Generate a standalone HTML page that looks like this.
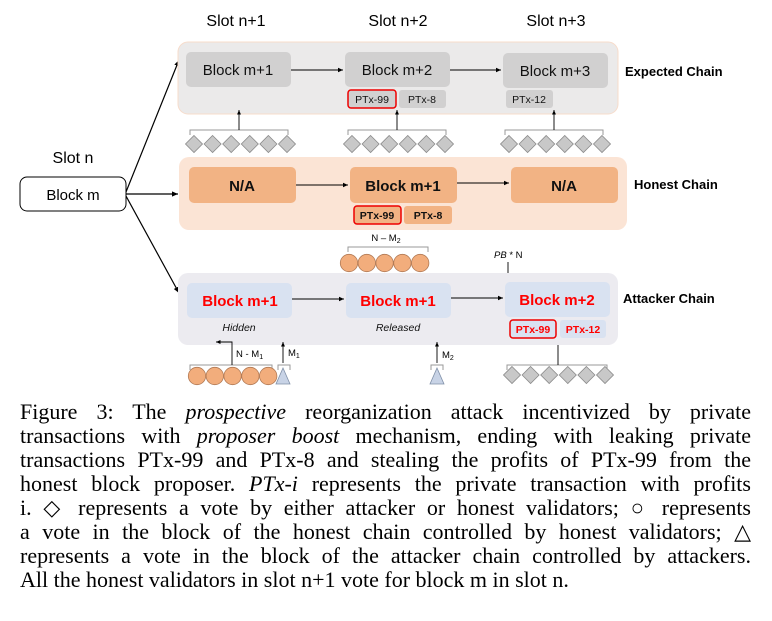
<!DOCTYPE html>
<html><head><meta charset="utf-8"><style>
html,body{margin:0;padding:0;background:#fff;width:772px;height:621px;overflow:hidden}
svg{position:absolute;left:0;top:0}
svg text{font-family:"Liberation Sans",sans-serif}
.cap{position:absolute;left:20px;width:731px;font-family:"Liberation Serif",serif;font-size:22px;line-height:24px;top:400px}
.cap div{text-align:justify;text-align-last:justify;white-space:nowrap;height:24px}
.cap div.last{text-align-last:left}
</style></head><body>
<svg width="772" height="400" viewBox="0 0 772 400">
<defs><marker id="a" markerWidth="6" markerHeight="6" refX="5" refY="3" orient="auto"><path d="M0,0.8L5,3L0,5.2z" fill="#000"/></marker>
<g id="dia"><path d="M0,-8.5L8.5,0L0,8.5L-8.5,0z" fill="#c8c8c8" stroke="#8a8a8a" stroke-width="0.8"/></g>
<circle id="cir" r="8.7" fill="#f2ad7c" stroke="#b27a55" stroke-width="0.8"/>
</defs>
<g font-size="16" fill="#000">
<text x="236" y="26" text-anchor="middle">Slot n+1</text>
<text x="398" y="26" text-anchor="middle">Slot n+2</text>
<text x="556" y="26" text-anchor="middle">Slot n+3</text>
<text x="73" y="163" text-anchor="middle">Slot n</text>
</g>
<rect x="20" y="177" width="106" height="34" rx="7" fill="#fff" stroke="#000" stroke-width="1"/>
<text x="73" y="200" text-anchor="middle" font-size="15">Block m</text>
<g stroke="#000" stroke-width="1.2" fill="none">
<line x1="126" y1="192" x2="179" y2="60" marker-end="url(#a)"/>
<line x1="126" y1="194" x2="178" y2="194" marker-end="url(#a)"/>
<line x1="126" y1="196" x2="179" y2="293" marker-end="url(#a)"/>
</g>
<rect x="178" y="42" width="440" height="72" rx="10" fill="#ebeaea" stroke="#f7dccb" stroke-width="1"/>
<g fill="#d1d0d0"><rect x="186" y="52" width="105" height="35" rx="5"/><rect x="345" y="52" width="105" height="35" rx="5"/><rect x="503" y="53" width="105" height="35" rx="5"/>
<rect x="399" y="90" width="47" height="18" rx="3"/><rect x="506" y="90" width="47" height="18" rx="3"/></g>
<rect x="348" y="90" width="48" height="18" rx="3" fill="#d1d0d0" stroke="#e00" stroke-width="1.5"/>
<g font-size="15" text-anchor="middle" fill="#111"><text x="238" y="75">Block m+1</text><text x="397" y="75">Block m+2</text><text x="555" y="76">Block m+3</text></g>
<g font-size="10.5" text-anchor="middle" fill="#111"><text x="372" y="103">PTx-99</text><text x="422" y="103">PTx-8</text><text x="529" y="103">PTx-12</text></g>
<g stroke="#000" stroke-width="1" fill="none">
<line x1="291" y1="70" x2="343" y2="70" marker-end="url(#a)"/><line x1="450" y1="70" x2="501" y2="70" marker-end="url(#a)"/>
</g>
<text x="625" y="76" font-size="13" font-weight="bold">Expected Chain</text>
<g stroke="#999" fill="none" stroke-width="1">
<path d="M190,135V130H288V135"/><path d="M348,135V130H446V135"/><path d="M505,135V130H603V135"/>
<path d="M507,370V365H607V370"/>
</g>
<g stroke="#000" stroke-width="0.9"><line x1="239" y1="130" x2="239" y2="110" marker-end="url(#a)"/><line x1="397" y1="130" x2="397" y2="110" marker-end="url(#a)"/><line x1="554" y1="130" x2="554" y2="110" marker-end="url(#a)"/><line x1="558" y1="365" x2="558" y2="340" marker-end="url(#a)"/></g>
<g transform="translate(194,144)"><use href="#dia"/><use href="#dia" x="18.6"/><use href="#dia" x="37.2"/><use href="#dia" x="55.8"/><use href="#dia" x="74.4"/><use href="#dia" x="93"/></g>
<g transform="translate(352,144)"><use href="#dia"/><use href="#dia" x="18.6"/><use href="#dia" x="37.2"/><use href="#dia" x="55.8"/><use href="#dia" x="74.4"/><use href="#dia" x="93"/></g>
<g transform="translate(509,144)"><use href="#dia"/><use href="#dia" x="18.6"/><use href="#dia" x="37.2"/><use href="#dia" x="55.8"/><use href="#dia" x="74.4"/><use href="#dia" x="93"/></g>
<g transform="translate(512,375)"><use href="#dia"/><use href="#dia" x="18.6"/><use href="#dia" x="37.2"/><use href="#dia" x="55.8"/><use href="#dia" x="74.4"/><use href="#dia" x="93"/></g>
<rect x="179" y="157" width="448" height="73" rx="10" fill="#fbe4d5"/>
<g fill="#f2b384"><rect x="189" y="167" width="107" height="36" rx="5"/><rect x="350" y="167" width="107" height="36" rx="5"/><rect x="511" y="167" width="107" height="36" rx="5"/><rect x="404" y="206" width="48" height="18" rx="3"/></g>
<rect x="354" y="206" width="47" height="18" rx="3" fill="#f2b384" stroke="#e00" stroke-width="1.5"/>
<g font-size="15" font-weight="bold" text-anchor="middle" fill="#111"><text x="242" y="191">N/A</text><text x="403" y="191">Block m+1</text><text x="564" y="191">N/A</text></g>
<g font-size="10.5" font-weight="bold" text-anchor="middle" fill="#111"><text x="377" y="219">PTx-99</text><text x="428" y="219">PTx-8</text></g>
<g stroke="#000" stroke-width="1"><line x1="296" y1="185" x2="348" y2="185" marker-end="url(#a)"/><line x1="457" y1="183" x2="509" y2="183" marker-end="url(#a)"/></g>
<text x="634" y="189" font-size="13" font-weight="bold">Honest Chain</text>
<text x="386" y="241" font-size="9.5" text-anchor="middle">N – M<tspan font-size="7" dy="2">2</tspan></text>
<path d="M348,252V247H428V252" stroke="#999" fill="none"/>
<g transform="translate(349,263)"><use href="#cir"/><use href="#cir" x="17.8"/><use href="#cir" x="35.6"/><use href="#cir" x="53.4"/><use href="#cir" x="71.2"/></g>
<text x="494" y="258" font-size="9.5"><tspan font-style="italic">PB</tspan> * N</text>
<line x1="508" y1="262" x2="508" y2="279" stroke="#000" stroke-width="0.9" marker-end="url(#a)"/>
<rect x="178" y="273" width="440" height="72" rx="10" fill="#ecebf0"/>
<g fill="#d9e2f1"><rect x="187" y="283" width="105" height="35" rx="5"/><rect x="346" y="283" width="105" height="35" rx="5"/><rect x="505" y="282" width="105" height="35" rx="5"/><rect x="560" y="320" width="46" height="18" rx="3"/></g>
<rect x="510" y="320" width="46" height="18" rx="3" fill="#d9e2f1" stroke="#e00" stroke-width="1.5"/>
<g font-size="15" font-weight="bold" text-anchor="middle" fill="#f00"><text x="240" y="306">Block m+1</text><text x="398" y="306">Block m+1</text><text x="557" y="305">Block m+2</text></g>
<g font-size="10.5" font-weight="bold" text-anchor="middle" fill="#f00"><text x="533" y="333">PTx-99</text><text x="583" y="333">PTx-12</text></g>
<g font-size="10.5" font-style="italic" text-anchor="middle" fill="#111"><text x="239" y="331">Hidden</text><text x="398" y="331">Released</text></g>
<g stroke="#000" stroke-width="1"><line x1="292" y1="299" x2="344" y2="299" marker-end="url(#a)"/><line x1="451" y1="298" x2="503" y2="298" marker-end="url(#a)"/></g>
<text x="623" y="303" font-size="13" font-weight="bold">Attacker Chain</text>
<path d="M190,370V365H272V370" stroke="#999" fill="none"/>
<path d="M278,370V365H290V370" stroke="#999" fill="none"/>
<path d="M431,370V365H443V370" stroke="#999" fill="none"/>
<g stroke="#000" stroke-width="0.9" fill="none"><path d="M232,365V342H216" marker-end="url(#a)"/><line x1="283" y1="363" x2="283" y2="342" marker-end="url(#a)"/><line x1="437" y1="363" x2="437" y2="342" marker-end="url(#a)"/></g>
<text x="236" y="357" font-size="9.5">N - M<tspan font-size="7" dy="2">1</tspan></text>
<text x="288" y="356" font-size="9.5">M<tspan font-size="7" dy="2">1</tspan></text>
<text x="442" y="358" font-size="9.5">M<tspan font-size="7" dy="2">2</tspan></text>
<g transform="translate(197,376)"><use href="#cir"/><use href="#cir" x="17.8"/><use href="#cir" x="35.6"/><use href="#cir" x="53.4"/><use href="#cir" x="71.2"/></g>
<path d="M283,368L290,384H276z" fill="#c8d3e6" stroke="#8090a8" stroke-width="0.8"/>
<path d="M437,368L444,384H430z" fill="#c8d3e6" stroke="#8090a8" stroke-width="0.8"/>
</svg>
<div class="cap">
<div>Figure 3: The <i>prospective</i> reorganization attack incentivized by private</div>
<div>transactions with <i>proposer boost</i> mechanism, ending with leaking private</div>
<div>transactions PTx-99 and PTx-8 and stealing the profits of PTx-99 from the</div>
<div>honest block proposer. <i>PTx-i</i> represents the private transaction with profits</div>
<div>i. ◇ represents a vote by either attacker or honest validators; ○ represents</div>
<div>a vote in the block of the honest chain controlled by honest validators; △</div>
<div>represents a vote in the block of the attacker chain controlled by attackers.</div>
<div class="last">All the honest validators in slot n+1 vote for block m in slot n.</div>
</div>
</body></html>
